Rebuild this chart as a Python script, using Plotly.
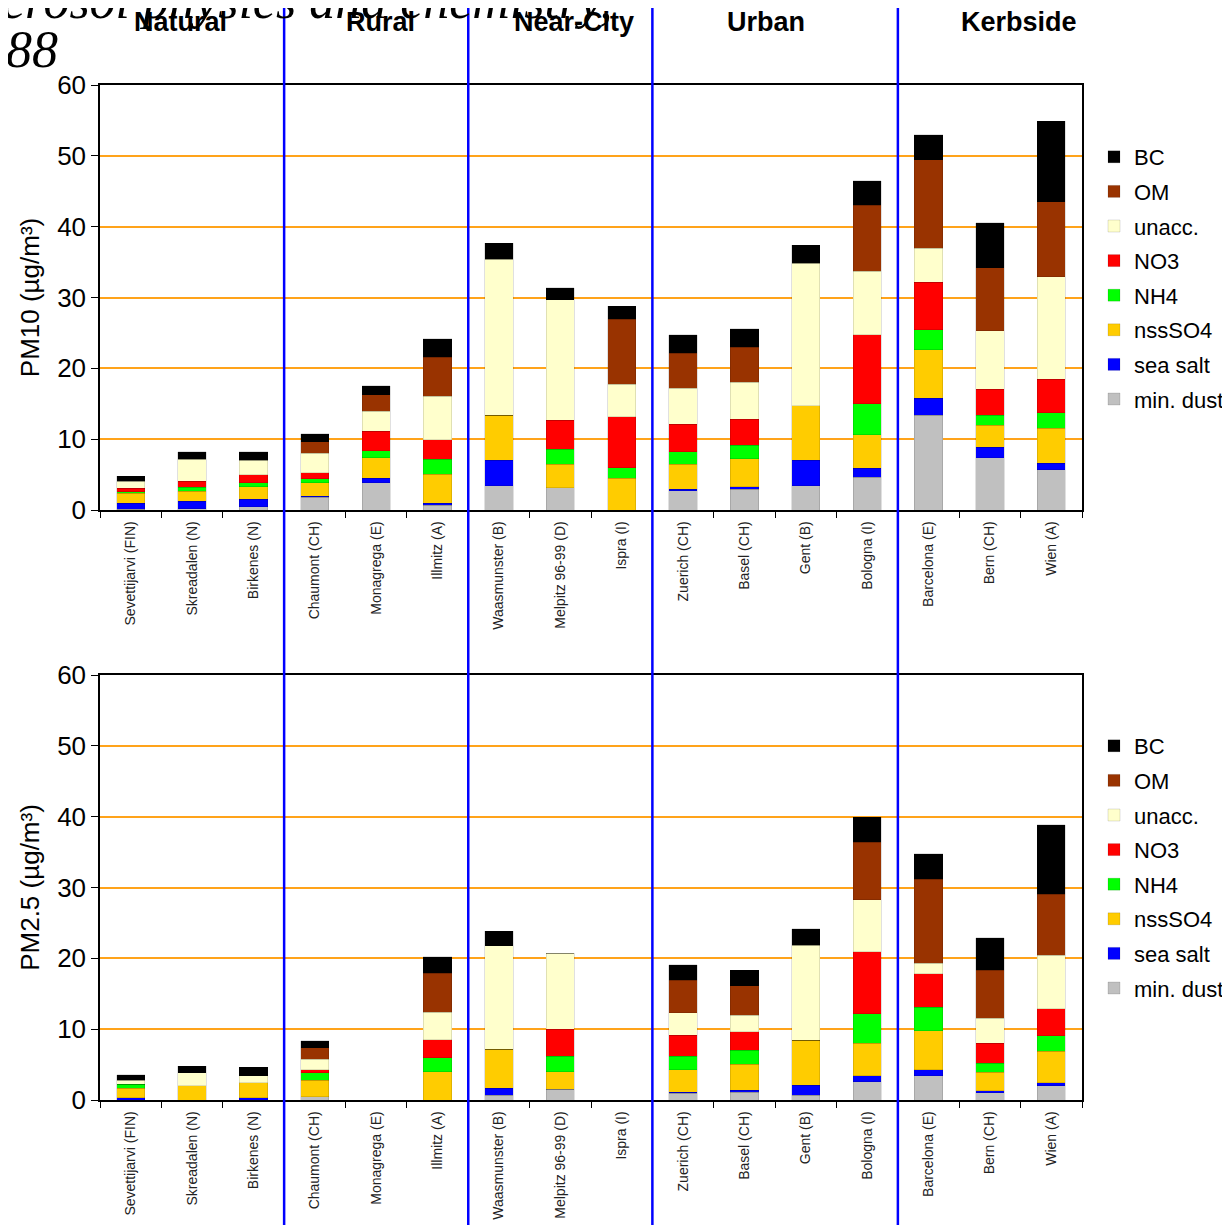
import plotly.graph_objects as go
from plotly.subplots import make_subplots

# Sites along the x axis (same for both panels)
sites = ["Sevettijarvi (FIN)", "Skreadalen (N)", "Birkenes (N)", "Chaumont (CH)",
         "Monagrega (E)", "Illmitz (A)", "Waasmunster (B)", "Melpitz 96-99 (D)",
         "Ispra (I)", "Zuerich (CH)", "Basel (CH)", "Gent (B)", "Bologna (I)",
         "Barcelona (E)", "Bern (CH)", "Wien (A)"]

site_groups = ["Natural", "Rural", "Near-City", "Urban", "Kerbside"]

# PM10 components (ug/m3), bottom of stack first
pm10_dust = [0.1, 0.15, 0.45, 1.8, 3.85, 0.65, 3.45, 3.15, 0, 2.7, 2.9, 3.45, 4.6, 13.4, 7.4, 5.65]
pm10_seasalt = [0.85, 1.1, 1.05, 0.15, 0.6, 0.3, 3.6, 0, 0, 0.25, 0.4, 3.6, 1.3, 2.35, 1.45, 0.95]
pm10_nsso4 = [1.4, 1.4, 1.75, 1.9, 2.9, 4.1, 6.35, 3.3, 4.45, 3.5, 3.95, 7.7, 4.7, 6.9, 3.15, 4.95]
pm10_nh4 = [0.2, 0.55, 0.6, 0.55, 1.0, 2.1, 0, 2.15, 1.55, 1.8, 1.9, 0, 4.4, 2.8, 1.4, 2.2]
pm10_no3 = [0.5, 0.85, 1.1, 0.85, 2.75, 2.8, 0, 4.1, 7.15, 3.85, 3.65, 0, 9.75, 6.7, 3.65, 4.7]
pm10_unacc = [1.0, 3.15, 2.05, 2.75, 2.85, 6.1, 22.0, 17.0, 4.6, 5.1, 5.25, 20.1, 8.95, 4.8, 8.25, 14.5]
pm10_om = [0, 0, 0, 1.65, 2.3, 5.5, 0, 0, 9.15, 4.95, 4.95, 0, 9.3, 12.5, 8.9, 10.6]
pm10_bc = [0.75, 1.0, 1.25, 1.15, 1.3, 2.6, 2.25, 1.7, 1.9, 2.6, 2.6, 2.5, 3.5, 3.55, 6.35, 11.3]

# PM2.5 components (ug/m3)
pm25_dust = [0, 0, 0, 0.45, 0, 0, 0.7, 1.5, 0, 0.95, 1.1, 0.7, 2.6, 3.4, 1.05, 2.0]
pm25_seasalt = [0.3, 0, 0.3, 0, 0, 0, 0.95, 0, 0, 0.15, 0.25, 1.4, 0.8, 0.85, 0.25, 0.45]
pm25_nsso4 = [1.35, 2.0, 2.15, 2.35, 0, 4.0, 5.5, 2.5, 0, 3.15, 3.7, 6.35, 4.6, 5.55, 2.6, 4.4]
pm25_nh4 = [0.55, 0, 0, 1.05, 0, 2.0, 0, 2.2, 0, 1.95, 2.0, 0, 4.15, 3.3, 1.3, 2.2]
pm25_no3 = [0, 0, 0, 0.4, 0, 2.5, 0, 3.8, 0, 2.95, 2.6, 0, 8.8, 4.7, 2.8, 3.8]
pm25_unacc = [0.6, 1.85, 1.0, 1.5, 0, 3.9, 14.65, 10.7, 0, 3.2, 2.35, 13.4, 7.3, 1.5, 3.55, 7.6]
pm25_om = [0, 0, 0, 1.65, 0, 5.5, 0, 0, 0, 4.55, 4.15, 0, 8.15, 11.9, 6.8, 8.6]
pm25_bc = [0.8, 0.95, 1.15, 1.0, 0, 2.3, 2.05, 0, 0, 2.2, 2.2, 2.35, 3.55, 3.6, 4.55, 9.8]

components = ["min. dust", "sea salt", "nssSO4", "NH4", "NO3", "unacc.", "OM", "BC"]
colors = ["#C0C0C0", "#0000FF", "#FFCC00", "#00FF00", "#FF0000", "#FFFFCC", "#993300", "#000000"]
pm10 = [pm10_dust, pm10_seasalt, pm10_nsso4, pm10_nh4, pm10_no3, pm10_unacc, pm10_om, pm10_bc]
pm25 = [pm25_dust, pm25_seasalt, pm25_nsso4, pm25_nh4, pm25_no3, pm25_unacc, pm25_om, pm25_bc]

FONT = "Liberation Sans, Arial, sans-serif"
SERIF = "Liberation Serif, Times New Roman, serif"
W, H = 1230, 1225
OFF = 8  # page body margin offsets the figure


def fx(px):
    return (px - OFF) / W


def fy(px):
    return 1 - (px - OFF) / H


fig = make_subplots(rows=2, cols=1)

n = len(components)
for i, (name, col, v10, v25) in enumerate(zip(components, colors, pm10, pm25)):
    fig.add_trace(go.Bar(x=sites, y=v10, name=name, marker_color=col,
                         marker_line=dict(color="rgba(0,0,0,0.15)", width=0.8),
                         legend="legend", legendgroup="a" + name, legendrank=n - i),
                  row=1, col=1)
    fig.add_trace(go.Bar(x=sites, y=v25, name=name, marker_color=col,
                         marker_line=dict(color="rgba(0,0,0,0.15)", width=0.8),
                         legend="legend2", legendgroup="b" + name, legendrank=n - i),
                  row=2, col=1)

axis_common = dict(showline=True, linecolor="black", linewidth=1.5, mirror=True, automargin=False)

fig.update_xaxes(domain=[fx(100), fx(1082)], tickangle=-90, ticks="outside", tickson="boundaries",
                 ticklen=6, tickcolor="black", showgrid=False, ticklabelstandoff=4,
                 tickfont=dict(family=FONT, size=14, color="#222"), **axis_common)
fig.update_yaxes(range=[0, 60], dtick=10, ticks="outside", ticklen=7, tickcolor="black",
                 showgrid=True, gridcolor="#FFA31A", gridwidth=1.5, zeroline=False,
                 tickfont=dict(family=FONT, size=26, color="black"), **axis_common)
fig.update_yaxes(domain=[fy(510), fy(85)], row=1, col=1,
                 title=dict(text="PM10 (µg/m³)", standoff=10,
                            font=dict(family=FONT, size=26, color="black")))
fig.update_yaxes(domain=[fy(1100), fy(675)], row=2, col=1,
                 title=dict(text="PM2.5 (µg/m³)", standoff=10,
                            font=dict(family=FONT, size=26, color="black")))

# blue separators between site groups, full page height
for b in [2.5, 5.5, 8.5, 12.5]:
    fig.add_shape(type="line", xref="x", yref="paper", x0=b, x1=b, y0=0, y1=fy(5),
                  line=dict(color="#0000FF", width=2.5))

# group headings
for label, px in zip(site_groups, [180, 381, 574, 766, 1019]):
    fig.add_annotation(text="<b>%s</b>" % label, xref="paper", yref="paper",
                       x=fx(px), y=fy(22), xanchor="center", yanchor="middle", showarrow=False,
                       font=dict(family=FONT, size=27, color="black"))

# cropped page text from the source document
fig.add_annotation(text="<i>erosol physics and chemistry,</i>", xref="paper", yref="paper",
                   x=fx(0), y=fy(1), xanchor="left", yanchor="middle", showarrow=False,
                   font=dict(family=SERIF, size=52, color="black"))
fig.add_annotation(text="<i>88</i>", xref="paper", yref="paper",
                   x=fx(4), y=fy(50), xanchor="left", yanchor="middle", showarrow=False,
                   font=dict(family=SERIF, size=52, color="black"))

legend_common = dict(traceorder="grouped", tracegroupgap=3, bgcolor="rgba(0,0,0,0)",
                     font=dict(family=FONT, size=22, color="black"),
                     xanchor="left", yanchor="top", itemwidth=30)
fig.update_layout(
    width=W, height=H,
    margin=dict(l=0, r=0, t=0, b=0, autoexpand=False),
    barmode="stack", bargap=0.54,
    plot_bgcolor="white", paper_bgcolor="white",
    showlegend=True,
    legend=dict(x=fx(1094), y=fy(136), **legend_common),
    legend2=dict(x=fx(1094), y=fy(725), **legend_common),
)

fig.write_html("out.html")
